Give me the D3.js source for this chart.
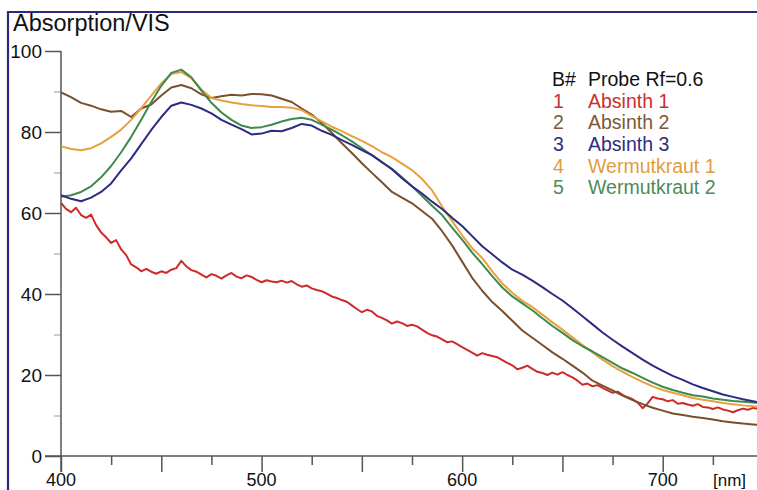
<!DOCTYPE html>
<html>
<head>
<meta charset="utf-8">
<script src="https://cdn.jsdelivr.net/npm/d3@7"></script>
<style>
  html, body { margin: 0; padding: 0; background: #fff; overflow: hidden; }
  svg { display: block; font-family: "Liberation Sans", Arial, sans-serif; }
</style>
</head>
<body>
<svg id="chart" width="757" height="490"></svg>
<script>
// Absorption spectra (VIS), Probe Rf=0.6

// wavelength grid for the smooth traces, 400..750 nm every 5 nm
const wl = [400,405,410,415,420,425,430,435,440,445,450,455,460,465,470,475,480,485,490,495,
            500,505,510,515,520,525,530,535,540,545,550,555,560,565,570,575,580,585,590,595,
            600,605,610,615,620,625,630,635,640,645,650,655,660,665,670,675,680,685,690,695,
            700,705,710,715,720,725,730,735,740,745,750];

// Absinth 1 is noisy, read at 2.5 nm
const wlRed = [400,402.5,405,407.5,410,412.5,415,417.5,420,422.5,425,427.5,430,432.5,435,437.5,
               440,442.5,445,447.5,450,452.5,455,457.5,460,462.5,465,467.5,470,472.5,475,477.5,
               480,482.5,485,487.5,490,492.5,495,497.5,500,502.5,505,507.5,510,512.5,515,517.5,
               520,522.5,525,527.5,530,532.5,535,537.5,540,542.5,545,547.5,550,552.5,555,557.5,
               560,562.5,565,567.5,570,572.5,575,577.5,580,582.5,585,587.5,590,592.5,595,597.5,
               600,602.5,605,607.5,610,612.5,615,617.5,620,622.5,625,627.5,630,632.5,635,637.5,
               640,642.5,645,647.5,650,652.5,655,657.5,660,662.5,665,667.5,670,672.5,675,677.5,
               680,682.5,685,687.5,690,692.5,695,697.5,700,702.5,705,707.5,710,712.5,715,717.5,
               720,722.5,725,727.5,730,732.5,735,737.5,740,742.5,745,747.5,750];

const absinth1 = [62.5,61.0,60.2,61.3,59.5,58.8,59.6,57.0,55.2,54.0,52.6,53.3,51.0,49.6,47.3,46.6,
                  45.6,46.2,45.5,45.0,45.6,45.2,46.0,46.4,48.2,46.8,45.9,45.5,44.8,44.1,44.9,44.5,
                  43.8,44.6,45.2,44.3,43.9,44.6,44.2,43.5,42.9,43.4,43.1,42.9,43.3,42.8,43.2,42.4,
                  41.8,42.1,41.4,41.0,40.7,40.1,39.4,39.0,38.5,38.1,37.2,36.3,35.5,36.1,35.7,34.6,
                  34.1,33.5,32.7,33.2,32.8,32.1,32.4,32.0,31.2,30.4,29.8,29.5,28.8,28.1,28.3,27.6,
                  26.9,26.2,25.5,24.8,25.4,25.0,24.7,24.4,23.7,23.0,22.4,21.4,21.8,22.3,21.5,20.8,
                  20.5,20.0,20.6,20.1,20.7,20.0,19.4,18.6,17.6,17.9,17.2,17.5,16.8,16.2,15.6,15.9,
                  15.1,14.5,14.0,13.2,11.8,13.0,14.6,14.2,14.0,13.5,13.8,12.9,13.1,12.7,12.4,12.8,
                  12.1,12.0,11.6,12.0,11.5,11.2,10.8,11.3,11.7,11.4,11.9,11.6,12.0];

const absinth2 = [89.8,88.6,87.2,86.5,85.6,85.0,85.2,83.7,85.8,86.8,89.0,91.0,91.6,90.8,89.3,88.4,
                  88.8,89.2,89.0,89.4,89.3,89.0,88.2,87.4,85.8,84.3,82.2,79.8,77.2,74.8,72.3,69.9,
                  67.6,65.2,63.8,62.4,60.5,58.6,55.5,52.0,48.0,44.0,40.8,38.0,35.8,33.4,31.0,29.2,
                  27.4,25.6,24.0,22.3,20.6,18.6,17.4,16.2,14.9,13.8,12.8,11.9,11.2,10.5,10.1,9.7,
                  9.4,9.0,8.6,8.3,8.0,7.8,7.6];

const absinth3 = [64.4,63.5,62.9,63.8,65.2,67.3,70.5,73.5,77.0,80.5,83.7,86.5,87.3,86.7,85.8,84.6,
                  83.0,81.8,80.7,79.4,79.6,80.3,80.2,81.0,82.0,81.6,80.3,79.3,78.0,76.8,75.5,74.3,
                  72.6,70.8,68.6,66.6,64.8,62.8,61.0,58.8,56.8,54.3,51.8,49.8,47.8,46.0,44.8,43.3,
                  41.7,40.0,38.4,36.5,34.5,32.5,30.5,28.7,27.0,25.4,23.8,22.3,21.0,19.8,18.8,17.7,
                  16.8,16.0,15.2,14.6,14.0,13.5,13.0];

const wermut1 = [76.5,75.8,75.5,76.0,77.2,78.8,80.6,83.0,85.9,89.0,92.0,94.3,94.8,93.3,90.5,88.4,
                 87.8,87.3,86.9,86.6,86.4,86.2,86.2,86.0,85.4,84.0,82.6,81.3,80.2,79.0,77.8,76.5,
                 75.0,73.8,72.2,70.6,68.4,65.6,61.6,58.0,54.5,51.3,48.9,45.6,42.6,40.3,38.3,36.8,
                 34.9,33.0,31.2,29.3,27.4,25.6,23.8,22.2,20.8,19.5,18.3,17.2,16.3,15.6,15.0,14.3,
                 13.9,13.5,13.1,12.8,12.5,12.3,12.0];

const wermut2 = [64.0,64.4,65.2,66.6,68.8,71.6,75.0,78.8,83.0,87.4,91.4,94.6,95.4,93.5,90.2,87.2,
                 84.8,83.0,81.6,81.0,81.2,81.8,82.6,83.2,83.5,83.0,81.8,80.6,79.2,77.7,76.0,74.3,
                 72.5,70.9,68.8,66.6,64.2,61.8,59.5,56.4,53.4,50.2,47.4,44.4,41.6,39.4,37.7,36.0,
                 34.0,32.1,30.4,28.6,27.1,25.8,24.4,23.0,21.6,20.5,19.3,18.1,17.1,16.3,15.6,15.0,
                 14.7,14.2,13.9,13.6,13.4,13.2,13.0];

const seriesNames = ['Absinth 1', 'Absinth 2', 'Absinth 3', 'Wermutkraut 1', 'Wermutkraut 2'];
const seriesColors = ['#cf2a2a', '#7a4f2c', '#2d2a84', '#e8a13c', '#3d8a4c'];
const legendColors = ['#cc2e2e', '#7d5a35', '#302c80', '#e09c3e', '#4b8b57'];

const yTicks = [0, 20, 40, 60, 80, 100];
const xLabels = [400, 500, 600, 700];

const svg = d3.select('#chart');
const frameColor = '#2c2a80';

const x = d3.scaleLinear().domain([400, 750]).range([61, 763]);
const y = d3.scaleLinear().domain([0, 100]).range([456, 51]);

// frame (top + left)
svg.append('line').attr('x1', 8).attr('x2', 757).attr('y1', 12).attr('y2', 12)
    .attr('stroke', frameColor).attr('stroke-width', 2.2);
svg.append('line').attr('x1', 8).attr('x2', 8).attr('y1', 11).attr('y2', 490)
    .attr('stroke', frameColor).attr('stroke-width', 2.2);

svg.append('text')
    .attr('x', 13).attr('y', 31)
    .attr('font-size', '23.5px')
    .attr('fill', '#111')
    .text('Absorption/VIS');

// axes
const axisColor = '#555';
const yAxis = svg.append('g').attr('transform', 'translate(61,0)')
    .call(d3.axisLeft(y).tickValues(yTicks).tickSize(16).tickPadding(3));
const yMinor = svg.append('g').attr('transform', 'translate(61,0)')
    .call(d3.axisLeft(y).tickValues([10, 30, 50, 70, 90]).tickSize(7).tickFormat(''));
const xAxis = svg.append('g').attr('transform', 'translate(0,456)')
    .call(d3.axisBottom(x).tickValues([400, 450, 500, 550, 600, 650, 700, 750]).tickSize(16).tickFormat(''));
const xMinor = svg.append('g').attr('transform', 'translate(0,456)')
    .call(d3.axisBottom(x).tickValues([425, 475, 525, 575, 625, 675, 725]).tickSize(9).tickFormat(''));

[yAxis, yMinor, xAxis, xMinor].forEach(g => {
    g.select('.domain').remove();
    g.selectAll('line').attr('stroke', axisColor).attr('stroke-width', 1.5);
});
yMinor.selectAll('line').attr('stroke', '#bbb');
yAxis.selectAll('text').attr('font-size', '19px').attr('fill', '#111')
    .attr('font-family', '"Liberation Sans", Arial, sans-serif');

svg.append('line').attr('x1', 61).attr('x2', 61).attr('y1', 51).attr('y2', 472)
    .attr('stroke', axisColor).attr('stroke-width', 1.5);
svg.append('line').attr('x1', 45).attr('x2', 757).attr('y1', 456).attr('y2', 456)
    .attr('stroke', axisColor).attr('stroke-width', 1.5);

svg.append('g').selectAll('text')
    .data(xLabels)
    .enter().append('text')
    .attr('x', d => x(d))
    .attr('y', 486)
    .attr('text-anchor', 'middle')
    .attr('font-size', '18px')
    .attr('fill', '#111')
    .text(d => d);

svg.append('text')
    .attr('x', 713).attr('y', 486)
    .attr('font-size', '17px')
    .attr('fill', '#111')
    .text('[nm]');

// curves
const line = d3.line().x(d => x(d[0])).y(d => y(d[1]));
const traces = [
    wlRed.map((w, i) => [w, absinth1[i]]),
    wl.map((w, i) => [w, absinth2[i]]),
    wl.map((w, i) => [w, absinth3[i]]),
    wl.map((w, i) => [w, wermut1[i]]),
    wl.map((w, i) => [w, wermut2[i]]),
];

svg.append('defs').append('clipPath').attr('id', 'plot')
    .append('rect').attr('x', 61).attr('y', 40).attr('width', 700).attr('height', 420);

const drawOrder = [0, 1, 3, 4, 2];
svg.append('g').attr('clip-path', 'url(#plot)')
    .selectAll('path')
    .data(drawOrder)
    .enter().append('path')
    .attr('d', i => line(traces[i]))
    .attr('fill', 'none')
    .attr('stroke', i => seriesColors[i])
    .attr('stroke-width', 2)
    .attr('stroke-linejoin', 'round');

// legend
const legend = svg.append('g').attr('font-size', '19.5px');
legend.append('text').attr('x', 552).attr('y', 85.5).attr('fill', '#111').text('B#');
legend.append('text').attr('x', 588).attr('y', 85.5).attr('fill', '#111').text('Probe Rf=0.6');
seriesNames.forEach((name, i) => {
    const ly = 107.5 + i * 21.7;
    legend.append('text').attr('x', 553).attr('y', ly).attr('fill', legendColors[i]).text(i + 1);
    legend.append('text').attr('x', 588).attr('y', ly).attr('fill', legendColors[i]).text(name);
});
</script>
</body>
</html>
